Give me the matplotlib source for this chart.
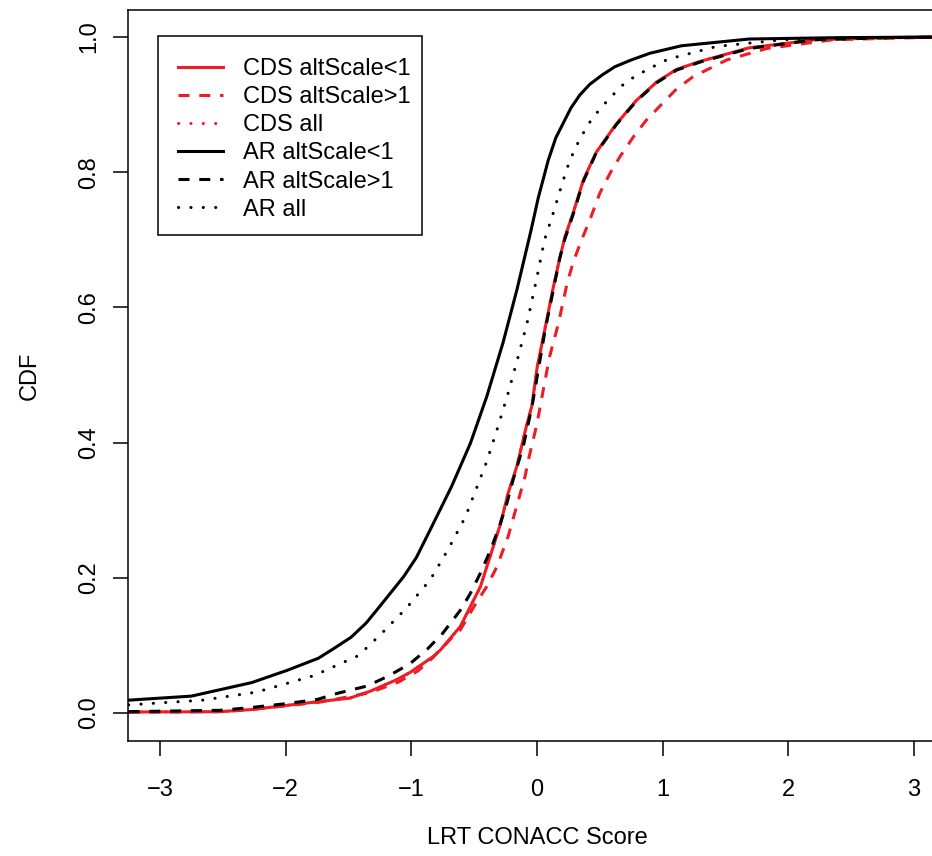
import matplotlib
matplotlib.use("Agg")
import matplotlib.pyplot as plt
from matplotlib.patches import Rectangle
from matplotlib.lines import Line2D

plt.rcParams["font.family"] = ["Liberation Sans", "DejaVu Sans"]

# values (score, cumulative fraction)
ar_lt1_x = [-3.25, -2.75, -2.27, -1.99, -1.74, -1.62, -1.48, -1.36, -1.25, -1.06, -0.96, -0.85,
            -0.68, -0.53, -0.40, -0.27, -0.16, -0.05, 0.01, 0.09, 0.15, 0.21, 0.27, 0.34, 0.42,
            0.52, 0.62, 0.75, 0.90, 1.15, 1.69, 2.4, 3.25]
ar_lt1_y = [0.019, 0.025, 0.045, 0.063, 0.081, 0.095, 0.112, 0.133, 0.158, 0.202, 0.230, 0.271,
            0.335, 0.399, 0.468, 0.548, 0.626, 0.712, 0.762, 0.818, 0.851, 0.873, 0.895, 0.914, 0.930,
            0.944, 0.956, 0.966, 0.976, 0.987, 0.997, 0.999, 1.0]

ar_all_x = [-3.25, -2.66, -2.23, -1.78, -1.42, -1.24, -1.04, -0.85, -0.71, -0.57, -0.47, -0.40,
            -0.31, -0.23, -0.15, -0.08, 0.00, 0.06, 0.12, 0.20, 0.26, 0.34, 0.44, 0.57, 0.71,
            0.87, 1.04, 1.43, 1.96, 2.6, 3.25]
ar_all_y = [0.012, 0.019, 0.031, 0.055, 0.085, 0.117, 0.155, 0.197, 0.241, 0.290, 0.338, 0.372,
            0.424, 0.473, 0.527, 0.576, 0.645, 0.700, 0.734, 0.783, 0.817, 0.849, 0.880, 0.908, 0.934,
            0.951, 0.967, 0.986, 0.996, 0.999, 1.0]

ar_gt1_x = [-3.25, -2.52, -2.28, -1.99, -1.75, -1.59, -1.35, -1.18, -1.01, -0.87, -0.75, -0.61,
            -0.53, -0.45, -0.37, -0.30, -0.24, -0.19, -0.11, -0.04, 0.01, 0.065, 0.13, 0.18, 0.22,
            0.29, 0.37, 0.47, 0.63, 0.79, 0.95, 1.11, 1.30, 1.69, 2.22, 2.8, 3.25]
ar_gt1_y = [0.002, 0.004, 0.008, 0.014, 0.020, 0.029, 0.040, 0.055, 0.073, 0.095, 0.118, 0.152,
            0.177, 0.207, 0.241, 0.276, 0.310, 0.345, 0.394, 0.453, 0.507, 0.567, 0.626, 0.672, 0.700,
            0.739, 0.787, 0.828, 0.870, 0.905, 0.932, 0.951, 0.963, 0.983, 0.996, 0.999, 1.0]

cds_lt1_x = [-3.25, -2.52, -2.28, -1.73, -1.49, -1.33, -1.12, -1.01, -0.83, -0.77, -0.61, -0.45,
             -0.35, -0.29, -0.23, -0.16, -0.09, -0.04, 0.00, 0.065, 0.13, 0.18, 0.22, 0.29, 0.37,
             0.47, 0.63, 0.79, 0.95, 1.11, 1.30, 1.69, 2.22, 2.8, 3.25]
cds_lt1_y = [0.0015, 0.002, 0.005, 0.017, 0.022, 0.032, 0.049, 0.060, 0.083, 0.093, 0.128, 0.187,
             0.245, 0.280, 0.325, 0.365, 0.420, 0.455, 0.510, 0.570, 0.630, 0.672, 0.703, 0.741, 0.789,
             0.829, 0.871, 0.906, 0.933, 0.952, 0.964, 0.984, 0.996, 0.999, 1.0]

cds_gt1_x = [-3.25, -2.52, -2.28, -1.73, -1.33, -1.10, -0.95, -0.85, -0.75, -0.67, -0.61, -0.50,
             -0.40, -0.32, -0.23, -0.095, -0.069, 0.00, 0.05, 0.10, 0.17, 0.24, 0.29, 0.355, 0.42,
             0.50, 0.58, 0.66, 0.77, 0.87, 1.00, 1.11, 1.24, 1.51, 1.83, 2.36, 3.02, 3.25]
cds_gt1_y = [0.001, 0.002, 0.005, 0.016, 0.030, 0.046, 0.062, 0.078, 0.097, 0.113, 0.123, 0.158,
             0.187, 0.216, 0.261, 0.350, 0.374, 0.428, 0.478, 0.527, 0.576, 0.636, 0.668, 0.700, 0.729,
             0.769, 0.798, 0.823, 0.853, 0.877, 0.902, 0.923, 0.941, 0.966, 0.983, 0.996, 0.999, 1.0]

# CDS all sits under the other curves, next to CDS altScale<1
cds_all_x = cds_lt1_x
cds_all_y = cds_lt1_y

labels = ["CDS altScale<1", "CDS altScale>1", "CDS all",
          "AR altScale<1", "AR altScale>1", "AR all"]
x_ticks = [-3, -2, -1, 0, 1, 2, 3]
y_ticks = [0.0, 0.2, 0.4, 0.6, 0.8, 1.0]

RED = "#ee1c25"
LW = 2.2
dashed = (0, (3.6, 3.2))
dotted = (0, (0.05, 4.0))

fig = plt.figure(figsize=(9.32, 8.56), dpi=100)
ax = fig.add_axes([128 / 932, 1 - 741 / 856, 818 / 932, 731 / 856])

series = [
    (cds_lt1_x, cds_lt1_y, RED, "-"),
    (cds_gt1_x, cds_gt1_y, RED, dashed),
    (cds_all_x, cds_all_y, RED, dotted),
    (ar_lt1_x, ar_lt1_y, "black", "-"),
    (ar_gt1_x, ar_gt1_y, "black", dashed),
    (ar_all_x, ar_all_y, "black", dotted),
]
handles = []
for (xs, ys, col, ls), lab in zip(series, labels):
    cap = "round" if ls == dotted else "butt"
    ax.plot(xs, ys, color=col, linestyle=ls, linewidth=LW, dash_capstyle=cap)
    handles.append(Line2D([], [], color=col, linestyle=ls, linewidth=LW, dash_capstyle=cap))

ax.set_xlim(-3.2546, 3.2546)
ax.set_ylim(-0.0414, 1.0399)

ax.set_xticks(x_ticks)
ax.set_xticklabels([str(t).replace("-", "\u2212") for t in x_ticks])
ax.set_yticks(y_ticks)
ax.set_yticklabels([f"{t:.1f}" for t in y_ticks], rotation=90, va="center")
ax.tick_params(axis="both", direction="out", length=11, width=1.1, labelsize=17)
ax.tick_params(axis="x", pad=16)
ax.tick_params(axis="y", pad=9)
for sp in ax.spines.values():
    sp.set_linewidth(1.1)

ax.set_xlabel("LRT CONACC Score", fontsize=17)
ax.xaxis.set_label_coords(0.5, (741 - 838) / 731)
ax.xaxis.label.set_va("center")
ax.set_ylabel("CDF", fontsize=17)
ax.yaxis.set_label_coords((30 - 128) / 818, 0.5)
ax.yaxis.label.set_va("center")

# legend box drawn as in base R
ax.add_patch(Rectangle(((158 - 128) / 818, (741 - 235) / 731), (422 - 158) / 818, (235 - 36) / 731,
                       transform=ax.transAxes, fill=False, edgecolor="black", linewidth=1.1,
                       zorder=5))
ax.legend(handles, labels, loc="upper left",
          bbox_to_anchor=((178 - 128) / 818, (741 - 58) / 731),
          frameon=False, fontsize=17, borderpad=0, borderaxespad=0,
          handlelength=1.9, handletextpad=0.85, labelspacing=0.26)

fig.savefig("out.png", dpi=100)
